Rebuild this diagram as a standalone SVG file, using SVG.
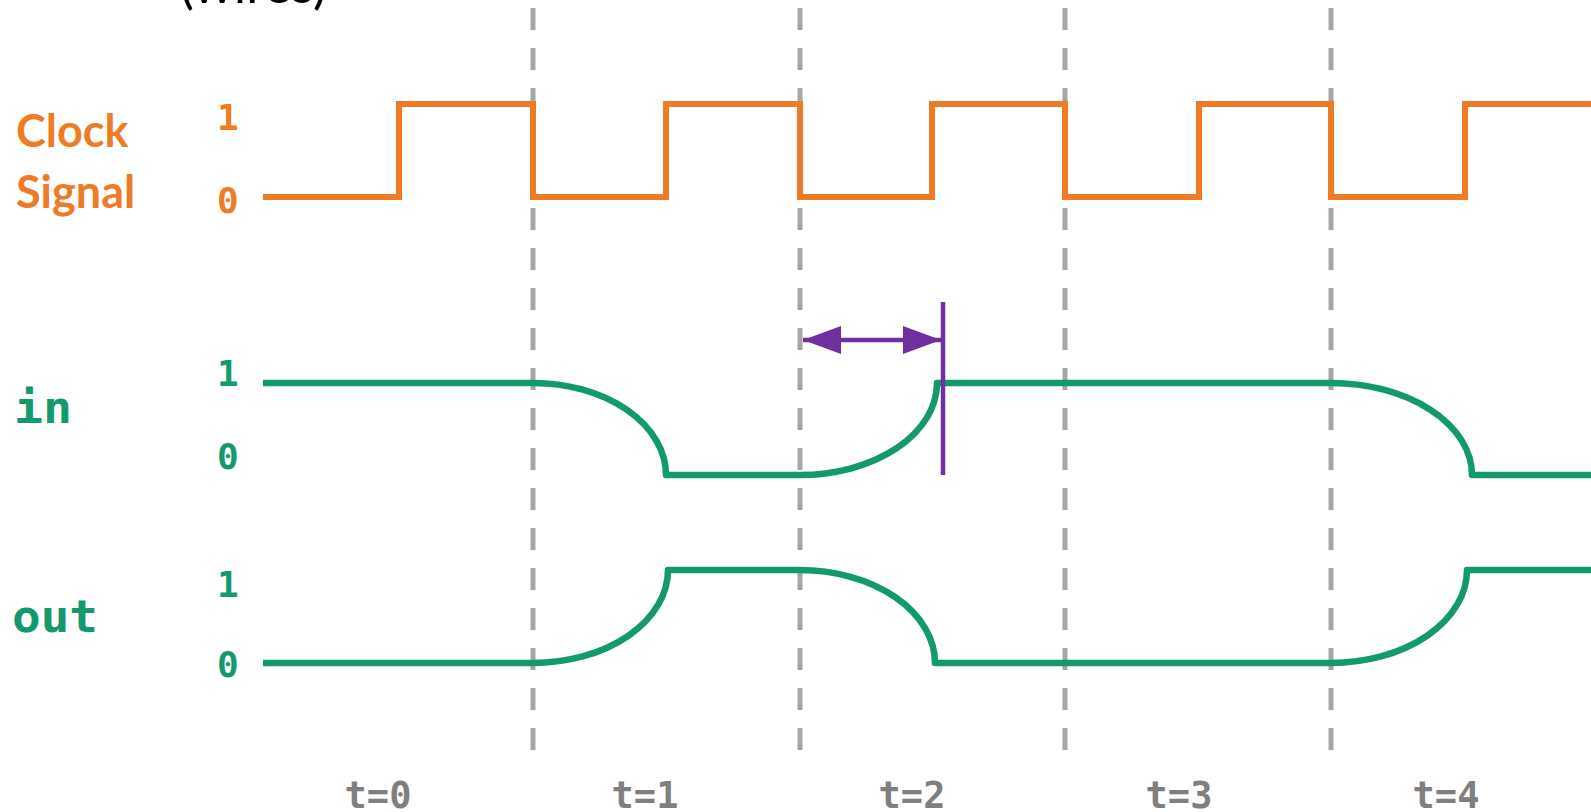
<svg xmlns="http://www.w3.org/2000/svg" width="1591" height="812" viewBox="0 0 1591 812">
  <style>
    .clk { fill: none; stroke: #F07B26; stroke-width: 6; stroke-linejoin: miter; }
    .sig { fill: none; stroke: #13996E; stroke-width: 6.5; stroke-linejoin: round; }
    .grid { stroke: #A6A6A6; stroke-width: 5; stroke-dasharray: 22 18; }
    .mark { stroke: #7030A0; stroke-width: 4.5; fill: none; }
    .name { font-family: Lato, "Open Sans", sans-serif; font-weight: 700; font-size: 45px; }
    .mono { font-family: "DejaVu Sans Mono", "Liberation Mono", monospace; font-weight: 700; }
    .lvl { font-size: 36px; }
    .tick { font-size: 37px; fill: #7F7F7F; }
    .orange { fill: #F07B26; }
    .green { fill: #13996E; }
  </style>
  <defs>
    <marker id="tri" viewBox="0 0 10 10" refX="10" refY="5" markerWidth="38" markerHeight="28" preserveAspectRatio="none" markerUnits="userSpaceOnUse" orient="auto-start-reverse">
      <path d="M0,0 L10,5 L0,10 z" fill="#7030A0"/>
    </marker>
  </defs>

  <!-- title, mostly above the top edge -->
  <text x="180" y="3" font-family="Lato, 'Open Sans', sans-serif" font-size="52" fill="#000">(wires)</text>

  <!-- clock period boundaries -->
  <g id="gridlines">
    <line class="grid" x1="533" y1="8" x2="533" y2="752"/>
    <line class="grid" x1="800" y1="8" x2="800" y2="752"/>
    <line class="grid" x1="1065" y1="8" x2="1065" y2="752"/>
    <line class="grid" x1="1331" y1="8" x2="1331" y2="752"/>
  </g>

  <g id="clock">
    <text class="name orange" x="16" y="147">Clock</text>
    <text class="name orange" x="16" y="208">Signal</text>
    <text class="mono lvl orange" x="217" y="130">1</text>
    <text class="mono lvl orange" x="217" y="213">0</text>
    <path class="clk" d="M263,197 H399 V104 H533 V197 H666 V104 H800 V197 H932 V104 H1065 V197 H1199 V104 H1331 V197 H1465 V104 H1595"/>
  </g>

  <g id="in">
    <text class="mono green" x="14" y="423" font-size="44" textLength="58" lengthAdjust="spacingAndGlyphs">in</text>
    <text class="mono lvl green" x="217" y="386">1</text>
    <text class="mono lvl green" x="217" y="469">0</text>
    <path class="sig" d="M263,383 H533 A133,92 0 0 1 666,475 H800 A137,92 0 0 0 937,383 H1331 A141,92 0 0 1 1472,475 H1595"/>
  </g>

  <g id="out">
    <text class="mono green" x="12" y="632" font-size="44" textLength="86" lengthAdjust="spacingAndGlyphs">out</text>
    <text class="mono lvl green" x="217" y="597">1</text>
    <text class="mono lvl green" x="217" y="677">0</text>
    <path class="sig" d="M263,663 H533 A135,93 0 0 0 668,570 H800 A135,93 0 0 1 935,663 H1331 A136,93 0 0 0 1467,570 H1595"/>
  </g>

  <!-- setup-time marker -->
  <g id="connectors">
    <line class="mark" x1="943" y1="302" x2="943" y2="475"/>
    <line class="mark" x1="803" y1="340" x2="941" y2="340" marker-start="url(#tri)" marker-end="url(#tri)"/>
  </g>

  <g id="steps">
    <text class="mono tick" x="378" y="808" text-anchor="middle">t=0</text>
    <text class="mono tick" x="645" y="808" text-anchor="middle">t=1</text>
    <text class="mono tick" x="912" y="808" text-anchor="middle">t=2</text>
    <text class="mono tick" x="1179" y="808" text-anchor="middle">t=3</text>
    <text class="mono tick" x="1446" y="808" text-anchor="middle">t=4</text>
  </g>
</svg>
